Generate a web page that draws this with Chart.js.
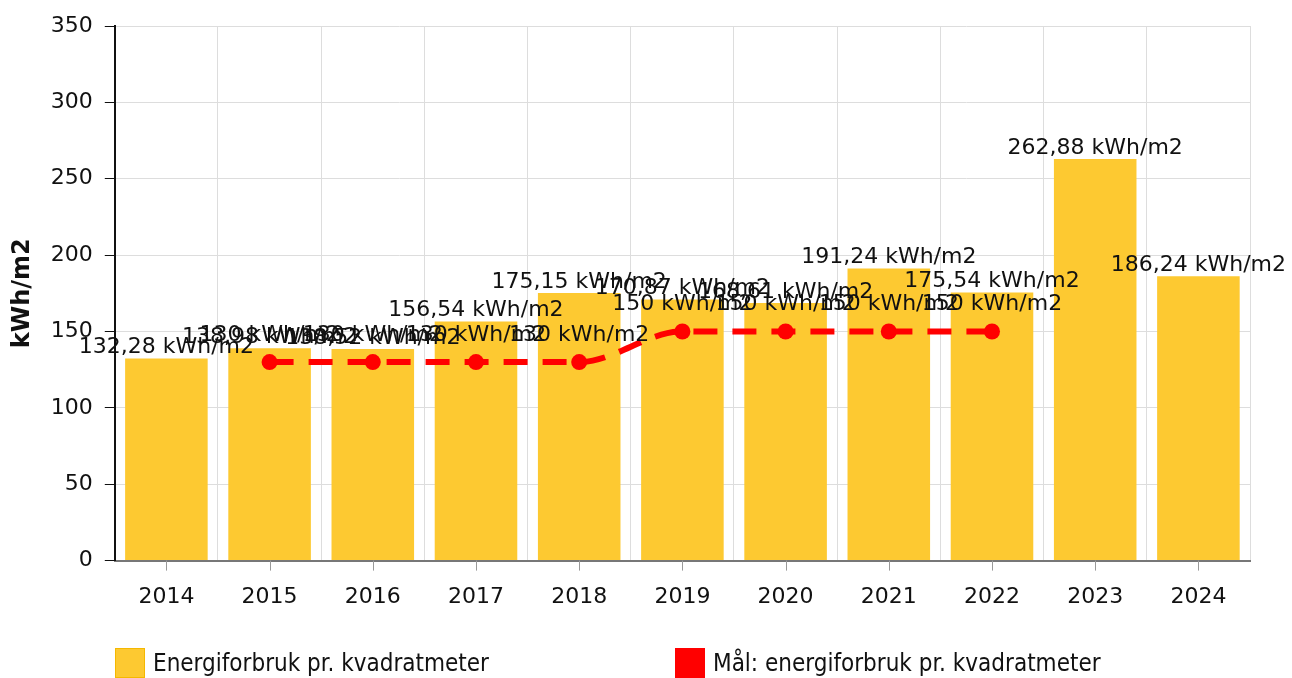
<!DOCTYPE html>
<html>
<head>
<meta charset="utf-8">
<script src="https://cdn.jsdelivr.net/npm/chart.js@4/dist/chart.umd.min.js"></script>
<style>
  html, body { margin: 0; padding: 0; background: #fff; }
  #wrap { position: relative; width: 1292px; height: 678px; }
  #legend { position: absolute; left: 0; top: 648px; width: 1292px; height: 30px;
    font-family: "DejaVu Sans Condensed", "DejaVu Sans", sans-serif; font-size: 24px; color: #111; }
  .item { position: absolute; top: 0; height: 30px; line-height: 30px; white-space: nowrap; }
  .box { display: inline-block; width: 28px; height: 28px; vertical-align: top; margin-right: 8px; }
</style>
</head>
<body>
<div id="wrap">
  <canvas id="chart" width="1292" height="678"></canvas>
  <div id="legend"></div>
</div>
<script>
const aar = ["2014", "2015", "2016", "2017", "2018", "2019", "2020", "2021", "2022", "2023", "2024"];
const forbruk = [132.28, 138.98, 138.52, 156.54, 175.15, 170.87, 168.61, 191.24, 175.54, 262.88, 186.24];
const maal = [null, 130, 130, 130, 130, 150, 150, 150, 150, null, null];
const serieNavn = ["Energiforbruk pr. kvadratmeter", "Mål: energiforbruk pr. kvadratmeter"];

const gul = "#fdc931";
const rod = "#ff0000";

function fmt(v) {
  return v.toString().replace(".", ",") + " kWh/m2";
}

// tekst over søyler og punkter
const verdiEtiketter = {
  id: "verdiEtiketter",
  afterDatasetsDraw(chart) {
    const ctx = chart.ctx;
    ctx.save();
    ctx.font = "22px 'DejaVu Sans'";
    ctx.fillStyle = "#111";
    ctx.textAlign = "center";
    ctx.textBaseline = "bottom";
    chart.data.datasets.forEach((ds, i) => {
      const meta = chart.getDatasetMeta(i);
      meta.data.forEach((el, j) => {
        const v = ds.data[j];
        if (v === null || v === undefined) return;
        const off = ds.type === "line" ? 16 : 0;
        ctx.fillText(fmt(v), el.x, el.y - off);
      });
    });
    ctx.restore();
  }
};

// små streker midt under hver kategori
const xStreker = {
  id: "xStreker",
  afterDraw(chart) {
    const x = chart.scales.x;
    const ctx = chart.ctx;
    ctx.save();
    ctx.strokeStyle = "#999";
    ctx.lineWidth = 1;
    x.ticks.forEach((t, i) => {
      const px = Math.round(x.getPixelForTick(i)) + 0.5;
      ctx.beginPath();
      ctx.moveTo(px, x.top);
      ctx.lineTo(px, x.top + 10);
      ctx.stroke();
    });
    ctx.restore();
  }
};

new Chart(document.getElementById("chart").getContext("2d"), {
  data: {
    labels: aar,
    datasets: [
      {
        type: "line",
        label: serieNavn[1],
        data: maal,
        borderColor: rod,
        backgroundColor: rod,
        borderWidth: 6,
        borderDash: [24, 15],
        pointRadius: 8,
        pointHoverRadius: 8,
        pointBackgroundColor: rod,
        pointBorderWidth: 0,
        cubicInterpolationMode: "monotone",
        spanGaps: false,
        order: 0
      },
      {
        type: "bar",
        label: serieNavn[0],
        data: forbruk,
        backgroundColor: gul,
        barPercentage: 0.8,
        categoryPercentage: 1,
        order: 1
      }
    ]
  },
  options: {
    responsive: false,
    animation: false,
    devicePixelRatio: 1,
    layout: { padding: { top: 26, right: 42, bottom: 45, left: 4 } },
    plugins: {
      legend: { display: false },
      tooltip: { enabled: false }
    },
    scales: {
      x: {
        grid: { color: "#dddddd", offset: true, drawTicks: false },
        border: { color: "#777", width: 2 },
        ticks: { color: "#111", font: { family: "DejaVu Sans", size: 22 }, padding: 23 }
      },
      y: {
        min: 0,
        max: 350,
        grid: { color: "#dddddd", tickColor: "#111", tickLength: 10 },
        border: { color: "#111", width: 2 },
        ticks: { stepSize: 50, color: "#111", font: { family: "DejaVu Sans", size: 22 }, padding: 12 },
        title: {
          display: true,
          text: "kWh/m2",
          color: "#111",
          font: { family: "DejaVu Sans", size: 24, weight: "bold" },
          padding: { top: 4, bottom: 2 }
        }
      }
    }
  },
  plugins: [verdiEtiketter, xStreker]
});

const legend = document.getElementById("legend");
const legendPos = [115, 675];
[[gul, "#f5b800"], [rod, rod]].forEach((c, i) => {
  const d = document.createElement("div");
  d.className = "item";
  d.style.left = legendPos[i] + "px";
  d.innerHTML = '<span class="box" style="background:' + c[0] + ';border:1px solid ' + c[1] + '"></span>' + serieNavn[i];
  legend.appendChild(d);
});
</script>
</body>
</html>
